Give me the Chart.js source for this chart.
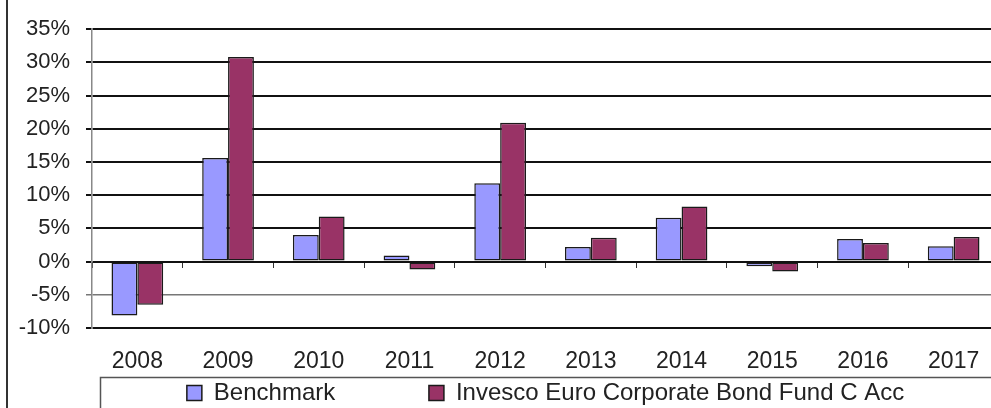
<!DOCTYPE html>
<html>
<head>
<meta charset="utf-8">
<script src="https://cdn.jsdelivr.net/npm/chart.js@4"></script>
<style>
    html, body { margin: 0; padding: 0; background: #fff; overflow: hidden; }
    .chart-wrap { position: relative; width: 1010px; height: 408px; }
</style>
</head>
<body>
<div class="chart-wrap"><canvas id="returnsChart"></canvas></div>
<script>
const years = ["2008", "2009", "2010", "2011", "2012", "2013", "2014", "2015", "2016", "2017"];
const benchmark = [-8.1, 15.6, 4.0, 0.9, 11.8, 2.2, 6.6, -0.7, 3.4, 2.3];
const fund = [-6.5, 30.8, 6.8, -1.2, 20.9, 3.6, 8.3, -1.5, 2.8, 3.7];
const seriesNames = ["Benchmark", "Invesco Euro Corporate Bond Fund C Acc"];
const yMin = -10;
const yMax = 35;
const yStep = 5;

const fontFamily = "'Liberation Sans', Arial, sans-serif";

// frame round the chart and box round the legend
const framePlugin = {
    id: "frame",
    afterDraw(chart) {
        const ctx = chart.ctx;
        ctx.save();
        ctx.fillStyle = "#333";
        ctx.fillRect(6, 0, 2, chart.height);
        ctx.strokeStyle = "#555";
        ctx.lineWidth = 1.5;
        ctx.strokeRect(100.5, 377.5, 2000, 60);
        ctx.restore();
    }
};

new Chart(document.getElementById("returnsChart").getContext("2d"), {
    type: "bar",
    data: {
        labels: years,
        datasets: [{
            label: seriesNames[0],
            data: benchmark,
            backgroundColor: "#9999FF",
            borderColor: "#1a1a1a",
            borderWidth: 1.5,
            borderSkipped: false
        }, {
            label: seriesNames[1],
            data: fund,
            backgroundColor: "#993366",
            borderColor: "#1a1a1a",
            borderWidth: 1.5,
            borderSkipped: false
        }]
    },
    options: {
        responsive: true,
        maintainAspectRatio: false,
        animation: false,
        layout: { padding: { left: 0, right: 11, top: 20, bottom: 0 } },
        datasets: {
            bar: { categoryPercentage: 0.57, barPercentage: 1.0 }
        },
        scales: {
            x: {
                grid: { display: false },
                border: { display: false },
                ticks: {
                    color: "#222",
                    padding: 12,
                    font: { family: fontFamily, size: 23 }
                },
                afterFit(scale) { scale.height = 46; }
            },
            x2: {
                axis: "x",
                type: "category",
                labels: years,
                offset: true,
                position: { y: 0 },
                grid: { offset: true, drawOnChartArea: false, drawTicks: true, tickLength: 6, color: "#333", lineWidth: 1 },
                border: { display: false },
                ticks: { display: false }
            },
            y: {
                min: yMin,
                max: yMax,
                ticks: {
                    stepSize: yStep,
                    color: "#222",
                    padding: 16,
                    font: { family: fontFamily, size: 22 },
                    callback: (value) => value + "%"
                },
                grid: {
                    tickLength: 6,
                    color: (c) => c.tick && c.tick.value === -5 ? "#777" : "#111",
                    lineWidth: (c) => c.tick && c.tick.value === -5 ? 1.5 : 2
                },
                border: { color: "#888", width: 1.5 },
                afterFit(scale) { scale.width = 92; }
            }
        },
        plugins: {
            legend: {
                position: "bottom",
                fullSize: false,
                maxHeight: 34,
                labels: {
                    color: "#222",
                    boxWidth: 15,
                    boxHeight: 15,
                    padding: 7,
                    font: { family: fontFamily, size: 24 },
                    generateLabels(chart) {
                        const items = Chart.defaults.plugins.legend.labels.generateLabels(chart);
                        // widen the gap after the first entry
                        items[0].text = items[0].text + "             ";
                        items.forEach(it => { it.lineWidth = 1.5; it.strokeStyle = "#1a1a1a"; });
                        return items;
                    }
                }
            },
            tooltip: { enabled: false }
        }
    },
    plugins: [framePlugin]
});
</script>
</body>
</html>
